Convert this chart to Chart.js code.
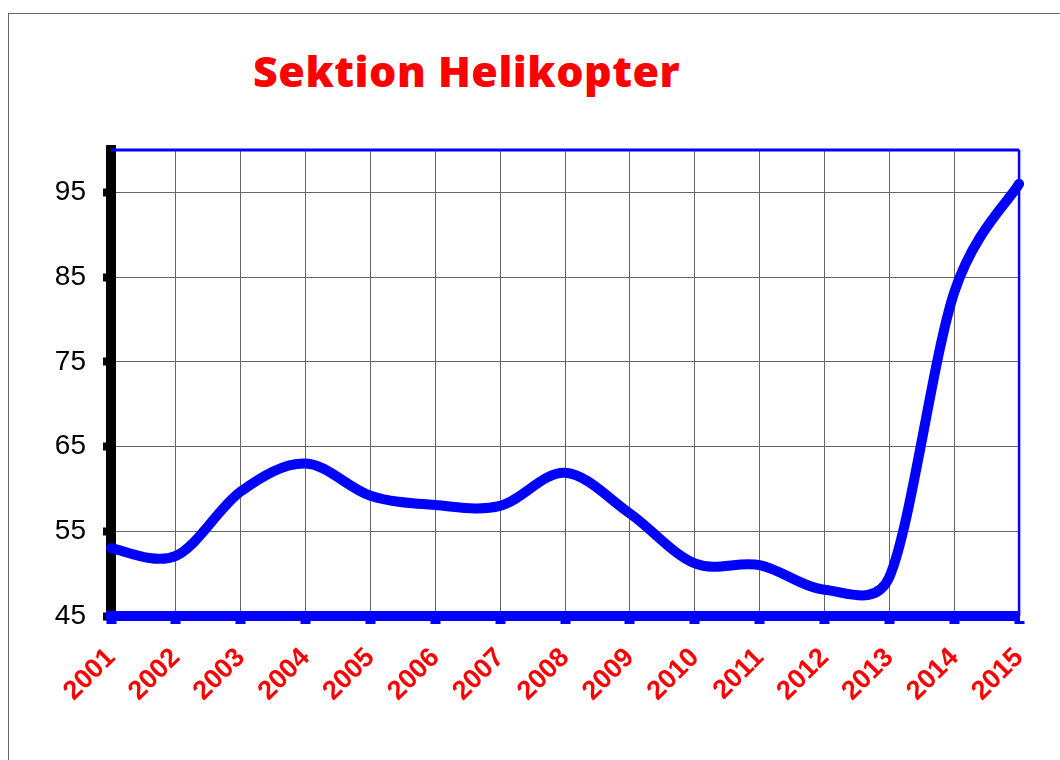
<!DOCTYPE html>
<html>
<head>
<meta charset="utf-8">
<script src="https://cdn.jsdelivr.net/npm/chart.js@4/dist/chart.umd.min.js"></script>
<style>
    body { margin: 0; width: 1060px; height: 760px; overflow: hidden; background: #fff; position: relative; }
    .frame { position: absolute; left: 8px; top: 13px; width: 1200px; height: 900px; border: 1px solid #666; }
    .title { position: absolute; left: 253px; top: 49px; margin: 0; font-family: "Open Sans", sans-serif; font-weight: 800; font-size: 43px; letter-spacing: 0.5px; line-height: 1; color: #ff0000; white-space: nowrap; }
    canvas { position: absolute; left: 0; top: 0; }
</style>
</head>
<body>
<div class="frame"></div>
<h1 class="title">Sektion Helikopter</h1>
<canvas id="chart-line" width="1060" height="760"></canvas>
<script>
// 데이터
const yearLabels = ["2001", "2002", "2003", "2004", "2005", "2006", "2007", "2008", "2009", "2010", "2011", "2012", "2013", "2014", "2015"];
const values = [53.0, 52.1, 59.7, 63.0, 59.2, 58.1, 58.0, 61.9, 57.1, 51.2, 51.0, 48.1, 49.6, 83.2, 96.0];
const yTicks = [45, 55, 65, 75, 85, 95];
const yMin = 45;
const yMax = 100;

// Excel 스타일 스무딩: p ± (next - prev) / 6, 인접 구간 길이의 절반까지로 제한
function limitVec(vx, vy, maxLen) {
    const len = Math.hypot(vx, vy);
    if (len > maxLen && len > 0) {
        const k = maxLen / len;
        return [vx * k, vy * k];
    }
    return [vx, vy];
}

const smoothLine = {
    id: 'smoothLine',
    beforeDatasetDraw(chart, args) {
        const meta = args.meta;
        meta.dataset.updateControlPoints(chart.chartArea, 'x');
        const pts = meta.data;
        pts.forEach((p, i) => {
            const prev = pts[i - 1] || p;
            const next = pts[i + 1] || p;
            const vx = (next.x - prev.x) / 6;
            const vy = (next.y - prev.y) / 6;
            const [ax, ay] = limitVec(vx, vy, Math.hypot(p.x - prev.x, p.y - prev.y) / 2);
            const [bx, by] = limitVec(vx, vy, Math.hypot(next.x - p.x, next.y - p.y) / 2);
            p.cp1x = p.x - ax;
            p.cp1y = p.y - ay;
            p.cp2x = p.x + bx;
            p.cp2y = p.y + by;
        });
    }
};

// 위쪽, 오른쪽 테두리
const plotFrame = {
    id: 'plotFrame',
    beforeDatasetsDraw(chart) {
        const { ctx, chartArea: a } = chart;
        ctx.save();
        ctx.strokeStyle = '#0000ff';
        ctx.lineWidth = 3;
        ctx.beginPath();
        ctx.moveTo(a.left, a.top);
        ctx.lineTo(a.right, a.top);
        ctx.stroke();
        ctx.lineWidth = 2.5;
        ctx.beginPath();
        ctx.moveTo(a.right, a.top);
        ctx.lineTo(a.right, a.bottom);
        ctx.stroke();
        ctx.restore();
    }
};

const config_line = {
    type: 'line',
    data: {
        labels: yearLabels,
        datasets: [{
            data: values,
            borderColor: '#0000ff',
            borderWidth: 10,
            borderCapStyle: 'round',
            borderJoinStyle: 'round',
            pointRadius: 0,
            tension: 0.4,
            fill: false
        }]
    },
    plugins: [smoothLine, plotFrame],
    options: {
        responsive: false,
        animation: false,
        layout: {
            padding: { top: 150, right: 40, bottom: 0, left: 0 }
        },
        scales: {
            y: {
                min: yMin,
                max: yMax,
                afterFit: scale => { scale.width = 111; },
                afterBuildTicks: scale => { scale.ticks = yTicks.map(v => ({ value: v })); },
                grid: {
                    z: -1,
                    color: '#666',
                    lineWidth: 1,
                    tickColor: '#000',
                    tickWidth: 8,
                    tickLength: 8
                },
                border: { color: '#000', width: 10 },
                ticks: {
                    padding: 17,
                    color: '#000',
                    font: { family: 'Liberation Sans, Arial, sans-serif', size: 28 }
                }
            },
            x: {
                afterFit: scale => { scale.height = 144; },
                grid: {
                    z: -1,
                    color: '#666',
                    lineWidth: 1,
                    tickColor: '#0000ff',
                    tickWidth: 10,
                    tickLength: 8
                },
                border: { color: '#0000ff', width: 10 },
                ticks: {
                    autoSkip: false,
                    minRotation: 45,
                    maxRotation: 45,
                    padding: 18,
                    color: '#ff0000',
                    font: { family: 'Liberation Sans, Arial, sans-serif', size: 27, weight: 'bold' }
                }
            }
        },
        plugins: {
            legend: { display: false },
            tooltip: { enabled: false }
        }
    }
};

const dateChart = new Chart(document.getElementById("chart-line"), config_line);
</script>
</body>
</html>
